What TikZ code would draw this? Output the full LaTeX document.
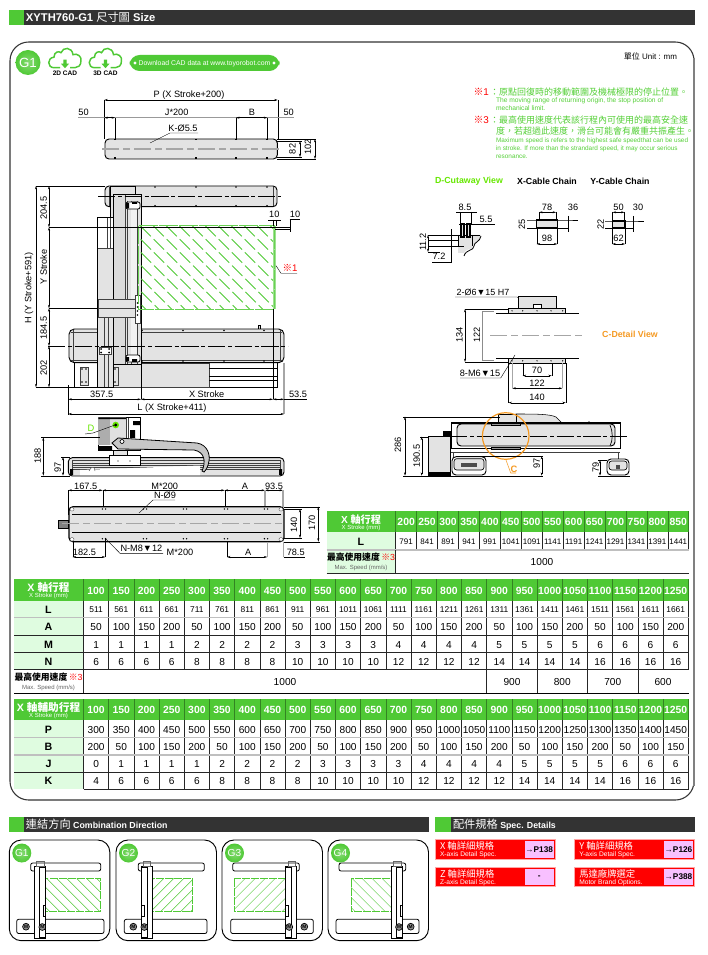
\documentclass[tikz,border=0pt]{standalone}
\usepackage{fontspec}
\setmainfont{Liberation Sans}
\newfontfamily\cjk{Noto Sans CJK TC}
\usetikzlibrary{arrows.meta,positioning}
\definecolor{brandgreen}{HTML}{4FC935}
\definecolor{notegreen}{HTML}{55D038}
\definecolor{palegreen}{HTML}{DFFCE0}
\definecolor{partgray}{HTML}{E3E3E3}
\definecolor{bardark}{HTML}{333333}
\definecolor{linkpink}{HTML}{F8C0FF}
\definecolor{detailorange}{HTML}{F59A23}
\definecolor{limegreen}{HTML}{66E800}
\tikzset{
  fs/.style={font=\fontsize{#1}{#1}\selectfont},
  fsb/.style={font=\fontsize{#1}{#1}\selectfont\bfseries},
  txt/.style={inner sep=0pt,outer sep=0pt},
  dimlabel/.style={txt,fs=6.9},
  part/.style={draw=black,line width=.7pt,fill=partgray},
  seam/.style={line width=.3pt,draw=black!75},
  dimline/.style={{Stealth[length=2.6pt,width=1.5pt]}-{Stealth[length=2.6pt,width=1.5pt]},line width=.3pt},
  extline/.style={line width=.3pt},
  greyext/.style={line width=.8pt,draw=black!35},
  centre/.style={line width=.45pt,dash pattern=on 13pt off 2pt on 3pt off 2pt},
  greycentre/.style={line width=.8pt,draw=black!35,dash pattern=on 13pt off 3pt on 5pt off 3pt},
  grid/.style={line width=.45pt,draw=black!85},
  softgrid/.style={line width=1pt,draw=black!25},
  headgrid/.style={line width=.4pt,draw=brandgreen!65!black},
  headcell/.style={txt,fsb=7.8,text=white,text height=5.6pt,text depth=0pt},
  cell/.style={txt,fs=7.6,text height=5.5pt,text depth=0pt},
  lcell/.style={txt,fs=6.3,text height=4.6pt,text depth=0pt},
  rowlabel/.style={txt,fsb=8,text height=5.8pt,text depth=0pt},
  hatchline/.style={line width=.6pt,draw=brandgreen,dash pattern=on 11pt off 3pt},
  minihatch/.style={line width=.35pt,draw=brandgreen},
  redbox/.style={fill=red,draw=red!35,line width=.5pt},
}
% x0, y0, x1, y1, sign of the slope, spacing, style
\newcommand{\hatchbox}[7]{
  \begin{scope}
    \clip (#1,#2) rectangle (#3,#4);
    \foreach \k in {-160,-142,...,320}
      \draw[#7] ({#1+\k*(#6)/18},#2) -- ++({(#5)*120},120);
  \end{scope}
}
% name, x0, width, y, style, values
\newcommand{\tablerow}[6]{
  \foreach \v [count=\i from 0] in {#6}
    \node[#5] (#1\i) at ({#2+#3*(\i+.5)},#4) {\v};
}
\begin{document}
\begin{tikzpicture}[x=0.75pt,y=-0.75pt]
\useasboundingbox (0,0) rectangle (707,955);
\fill[white] (0,0) rectangle (707,955);

% section bars
\foreach \xa/\xb/\xg/\ya in {9/695/24/10,9/429/24/816.7,435/694.5/451/816.7} {
  \fill[bardark] (\xa,\ya) rectangle (\xb,\ya+15);
  \fill[brandgreen] (\xa,\ya) rectangle (\xg,\ya+15);
}
\node[txt,text=white,fsb=8.4,anchor=west] (titlesize) at (26,17.7) {XYTH760-G1 {\cjk\mdseries\fontsize{8.4}{8.4}\selectfont 尺寸圖} Size};
\node[txt,text=white,fsb=6.6,anchor=west] (titlecomb) at (26,824.3) {{\cjk\mdseries\fontsize{8.4}{8.4}\selectfont 連結方向} Combination Direction};
\node[txt,text=white,fsb=6.6,anchor=west] (titlespec) at (453,824.3) {{\cjk\mdseries\fontsize{8.4}{8.4}\selectfont 配件規格} Spec. Details};

% outer frame
\draw[line width=.8pt,draw=black!80,rounded corners=14] (10,42) rectangle (694,800);
\draw[line width=1.3pt,draw=black!50] (694,58) -- (694,786);

% badge and cad icons
\shade[inner color=brandgreen!70!white,outer color=brandgreen] (28,62.5) circle[radius=12.5];
\node[txt,text=white,fs=10] (badge) at (28,62.5) {G1};
\foreach \cx/\clabel in {65/2D CAD,105.5/3D CAD} {
  \begin{scope}[shift={(\cx,47.7)}]
    \draw[line width=1.1pt,draw=brandgreen] (-5,20) -- (-11,20) .. controls (-18,20) and (-18,10) .. (-11,9.5) .. controls (-11,4) and (-6,3) .. (-4,5) .. controls (-2,-1) and (7,-1) .. (8,7) .. controls (12,5) and (17,9) .. (16,13) .. controls (16,18) and (13,20) .. (10,20) -- (5,20);
    \fill[brandgreen] (-1.7,12) -- (1.7,12) -- (1.7,16) -- (4,16) -- (0,20.5) -- (-4,16) -- (-1.7,16) -- cycle;
  \end{scope}
  \node[txt,fsb=4.9] (cad\cx) at (\cx,73.5) {\clabel};
}
\fill[brandgreen,rounded corners=7.6] (129.5,55) rectangle (279.5,71);
\fill[white] (135,63) circle[radius=1.7] (274,63) circle[radius=1.7];
\node[txt,text=white,fs=5.15] (download) at (204.5,63.3) {Download CAD data at www.toyorobot.com};
\node[txt,fs=6,anchor=east] (unit) at (677,56) {{\cjk 單位} Unit : mm};

% notes
\node[txt,text=red,fs=7.4,anchor=west] (mark1) at (473.5,92) {{\cjk ※}1};
\node[txt,text=notegreen,fs=6.75,anchor=west] (note1) at (490,92) {\cjk ：原點回復時的移動範圍及機械極限的停止位置。};
\node[txt,text=notegreen,fs=5,anchor=west] (note1a) at (496,101) {The moving range of returning origin, the stop position of};
\node[txt,text=notegreen,fs=5,anchor=west] (note1b) at (496,108.5) {mechanical limit.};
\node[txt,text=red,fs=7.4,anchor=west] (mark3) at (473.5,120) {{\cjk ※}3};
\node[txt,text=notegreen,fs=6.75,anchor=west] (note3) at (490,120) {\cjk ：最高使用速度代表該行程內可使用的最高安全速};
\node[txt,text=notegreen,fs=6.75,anchor=west] (note3b) at (496,131) {\cjk 度，若超過此速度，滑台可能會有嚴重共振產生。};
\node[txt,text=notegreen,fs=4.8,anchor=west] (note3c) at (496,141) {Maximum speed is refers to the highest safe speedthat can be used};
\node[txt,text=notegreen,fs=4.8,anchor=west] (note3d) at (496,149) {in stroke. If more than the strandard speed, it may occur serious};
\node[txt,text=notegreen,fs=4.8,anchor=west] (note3e) at (496,157) {resonance.};

% top plan view
\draw[part,rounded corners=3] (105,139) rectangle (277.3,159);
\draw[greycentre] (102,149) -- (280,149);
\foreach \hx in {115,196,236,267} {
  \draw[line width=.8pt] (\hx,139) -- (\hx,140.5) (\hx,157.5) -- (\hx,159);
}
\node[dimlabel] (pdim) at (189,95) {P (X Stroke+200)};
\draw[dimline] (104.3,100) -- (277.7,100);
\draw[extline] (104.3,100) -- (104.3,139) (277.7,100) -- (277.7,139);
\draw[line width=.5pt,draw=black!40] (78,117.7) -- (294,117.7);
\draw[dimline] (104.3,117.7) -- (115,117.7);
\draw[dimline] (236,117.7) -- (267.3,117.7);
\draw[extline] (115,118) -- (115,139) (236,118) -- (236,139) (267.3,118) -- (267.3,139);
\node[dimlabel] (fifty1) at (83.5,112.5) {50};
\node[dimlabel] (jdim) at (176.7,112.5) {J*200};
\node[dimlabel] (bdim) at (252,112.5) {B};
\node[dimlabel] (fifty2) at (288.7,112.5) {50};
\node[dimlabel] (kdim) at (183,128) {K-Ø5.5};
\draw[extline] (198,133) -- (170,133) -- (150,143);
\draw[extline] (277,139) -- (316,139) (277,159) -- (316,159) (277,141) -- (302,141) (277,157) -- (302,157);
\draw[dimline] (300,141) -- (300,157);
\draw[dimline] (315,139) -- (315,159);
\node[dimlabel,rotate=90] (d82) at (292.5,149) {82};
\node[dimlabel,rotate=90] (d102) at (308,147) {102};

% front view, x axis
\draw[part,fill=white] (74.3,362.7) rectangle (277.3,387.3);
\draw[seam,fill=partgray] (106.7,362.7) rectangle (209.3,387.3);
\foreach \ly in {368,376.7,380} {
  \draw[line width=.5pt] (209.3,\ly) -- (277.3,\ly);
}
\draw[seam,fill=partgray] (80,367) rectangle (88,385);
\draw[seam,fill=partgray] (107,367) rectangle (118,385);
\foreach \mx/\my in {82/369,86/369,82/382,86/382,110/369,115/369,110/382,115/382} {
  \fill (\mx,\my) circle[radius=.9];
}
\draw[part] (258,329) -- (258,325.5) -- (260,325.5) -- (260,329);
\draw[part,rounded corners=4] (69,329) rectangle (284,362.7);
\draw[seam] (73.3,330) -- (73.3,362) (280,330) -- (280,362);
\draw[seam] (71,332) -- (282,332) (71,360) -- (282,360);
\foreach \hx in {142,183,224,264} {
  \fill (\hx,330.5) circle[radius=.9] (\hx,361) circle[radius=.9];
}

% front view, y axis
\draw[part,rounded corners=3] (105,186) rectangle (277,206.7);
\draw[seam] (109,187) -- (109,206) (273.5,187) -- (273.5,206);
\foreach \hx in {155,196,236,267} {
  \fill (\hx,187) circle[radius=.8] (\hx,205.7) circle[radius=.8];
}
\draw[part] (110,186) rectangle (135,217.3);
\draw[part] (97.7,217.3) rectangle (113.3,387);
\fill[white] (98.2,217.8) rectangle (112.8,248);
\draw[seam] (97.7,248) -- (113,248) (107,218) -- (107,248) (110,218) -- (110,248) (104,317) -- (104,387) (108,317) -- (108,387);
\draw[part] (113.3,194.3) rectangle (141,364);
\fill[black!14] (113.8,195) rectangle (124.7,363.5);
\draw[seam] (124.7,195) -- (124.7,364) (127,201) -- (127,364) (131,201) -- (131,364) (137,201) -- (137,364);
\fill[black!5] (131.3,203) rectangle (136.7,362);
\draw[line width=.6pt,fill=white,rounded corners=1.5] (126,202) rectangle (140,209);
\fill (126,203) rectangle (129,208.5) (132,202) rectangle (137,204);
\draw[line width=.6pt,fill=white,rounded corners=1.5] (126,355) rectangle (140,362);
\fill (126,357) rectangle (129,361) (132,359) rectangle (137,362);
\draw[seam,fill=partgray] (97.7,299.3) rectangle (135,317.3);
\draw[seam] (97.7,308.3) -- (135,308.3);
\draw[seam,fill=white] (135,295) rectangle (140,323);
\foreach \my in {303,307,311,315} {
  \fill (137.5,\my) circle[radius=.8];
}
\draw[seam,fill=white] (99,347) rectangle (111,354.5);
\foreach \mx/\my in {101,109} {
  \fill (\mx,349) circle[radius=1] (\mx,352.5) circle[radius=1];
}

% hatch area
\hatchbox{139}{226}{274.7}{309.3}{1}{13}{hatchline}
\draw[line width=2pt,draw=brandgreen!55!white] (274.7,226) -- (274.7,309.3);
\draw[line width=1pt,draw=brandgreen!85!white,dash pattern=on 14pt off 1pt] (138.7,225.7) rectangle (274.7,309.3);

% front view centre lines and dimensions
\draw[centre] (98,196.7) -- (281,196.7);
\draw[centre] (48,346) -- (288,346);
\draw[line width=.5pt] (49,227.3) -- (290,227.3);
\draw[line width=.5pt] (49,308.3) -- (98,308.3);
\draw[extline] (36,186) -- (105,186) (36,387.3) -- (75,387.3);
\draw[dimline] (36,186) -- (36,387.3);
\draw[dimline] (49,186) -- (49,227.3);
\draw[dimline] (49,227.3) -- (49,308.3);
\draw[dimline] (49,308.3) -- (49,346);
\draw[dimline] (49,346) -- (49,387.3);
\node[dimlabel,rotate=90] (hdim) at (29,288) {H (Y Stroke+591)};
\node[dimlabel,rotate=90] (ya) at (43.7,208) {204.5};
\node[dimlabel,rotate=90] (yb) at (43.7,267) {Y Stroke};
\node[dimlabel,rotate=90] (yc) at (43.7,328) {184.5};
\node[dimlabel,rotate=90] (yd) at (43.7,368) {202};
\node[dimlabel] (ten1) at (274.3,214) {10};
\node[dimlabel] (ten2) at (295,214) {10};
\draw[extline] (268,220) -- (281,220) (289.7,219.3) -- (300,219.3) (289.7,219.3) -- (289.7,232);
\draw[extline] (273,220) -- (273,226) (276,220) -- (276,226) (275,229) -- (290,229);
\draw[line width=.6pt] (273,309) -- (273,399);
\draw[extline] (141,364) -- (141,399.3) (68.3,385) -- (68.3,415);
\draw[greyext] (284,362.7) -- (284,414);
\draw[dimline] (68.3,399.3) -- (141,399.3);
\draw[dimline] (141,399.3) -- (273,399.3);
\draw[dimline] (273,399.3) -- (284,399.3);
\draw[extline] (284,399.3) -- (307,399.3);
\draw[dimline] (68.3,414) -- (284,414);
\node[dimlabel] (da) at (101.7,394) {357.5};
\node[dimlabel] (db) at (206.7,394) {X Stroke};
\node[dimlabel] (dc) at (298,394) {53.5};
\node[dimlabel] (dd) at (172,407.7) {L (X Stroke+411)};
\node[txt,text=red,fs=7.2] (markone) at (290,267.7) {{\cjk ※}1};
\draw[extline] (297,273.3) -- (281,273.3) -- (276,265.7);

% side view
\draw[part,rounded corners=3] (68.3,457.7) rectangle (284,476);
\foreach \ly in {460.5,463,465,467,469.5} {
  \draw[seam] (72,\ly) -- (280,\ly);
}
\fill[white] (80,470) -- (200,465.5) -- (200,475) -- (80,475) -- cycle;
\draw[seam] (72,460) -- (72,475) (280,460) -- (280,475);
\fill (70,469) rectangle (73,475) (279,469) rectangle (282,475);
\draw[seam,fill=white] (89,471) .. controls (91,466) and (95,466) .. (95,471);
\draw[part,fill=white] (109.3,455) rectangle (140,465);
\foreach \hx in {118,130} {
  \fill (\hx,461) circle[radius=.7];
}
\draw[part] (113,445) rectangle (127,455);
\draw[part,fill=white] (98.3,417.3) rectangle (140,450);
\fill[black!32] (98.3,417.3) rectangle (110,445);
\fill[black!12] (110,417.3) rectangle (126,445);
\fill (98.3,446) rectangle (112,450) (98.3,417.3) rectangle (126,419);
\draw[seam] (126,418) -- (126,446) (128,418) -- (128,446);
\fill (130,430) rectangle (135,438) (133,421) rectangle (140,425);
\draw[line width=.6pt,fill=black!22] (112,443) -- (118,438) -- (197,443) .. controls (208,445) and (210,455) .. (209,461) .. controls (208,467) and (206,470) .. (204,472) -- (202,471) .. controls (206,462) and (205,452) .. (194,450) -- (118,449) -- cycle;
\draw[line width=.5pt,fill=white] (122,441.5) circle[radius=2];
\fill[limegreen] (115.7,425) circle[radius=3.3];
\fill (115.7,425) circle[radius=1.6];
\node[txt,text=limegreen,fs=7] (dmark) at (91,428) {D};
\draw[extline] (85,434) -- (93,433) -- (115,425);
\draw[extline] (41,437.3) -- (100,437.3) (41,475.7) -- (70,475.7) (61,457) -- (70,457);
\draw[dimline] (43.3,437.3) -- (43.3,475.7);
\draw[dimline] (63,457) -- (63,475.7);
\node[dimlabel,rotate=90] (s188) at (37.7,456) {188};
\node[dimlabel,rotate=90] (s97) at (57.7,467.7) {97};

% bottom plan view
\node[dimlabel] (b1) at (85.7,486) {167.5};
\node[dimlabel] (b2) at (164.7,486) {M*200};
\node[dimlabel] (b3) at (245,486) {A};
\node[dimlabel] (b4) at (274,486) {93.5};
\draw[dimline] (68.3,490.3) -- (102.7,490.3);
\draw[dimline] (102.7,490.3) -- (224.7,490.3);
\draw[dimline] (224.7,490.3) -- (265,490.3);
\draw[dimline] (265,490.3) -- (283,490.3);
\draw[extline] (68.3,490) -- (68.3,515) (102.7,490) -- (102.7,507) (224.7,490) -- (224.7,507);
\draw[greyext] (265,490) -- (265,507) (283,490) -- (283,507);
\draw[line width=.5pt,fill=black!50] (58,520) rectangle (68,528);
\draw[part,rounded corners=3,line width=.9pt] (69,506.7) rectangle (284,541.7);
\draw[line width=.4pt] (72,514) -- (281,514) (72,532.7) -- (281,532.7);
\draw[seam,fill=white,rounded corners=1] (70,507.5) rectangle (74,511) (279,507.5) rectangle (283,511) (70,537.5) rectangle (74,541) (279,537.5) rectangle (283,541);
\draw[greycentre] (62,523.3) -- (284,523.3);
\foreach \hx in {104,145,185,226,266} {
  \fill (\hx-1.6,509) circle[radius=.8] (\hx+1.6,509) circle[radius=.8] (\hx-1.6,538.7) circle[radius=.8] (\hx+1.6,538.7) circle[radius=.8];
}
\node[dimlabel] (nhole) at (165,495.7) {N-Ø9};
\draw[extline] (175,500) -- (153,500) -- (139,513);
\draw[extline] (284,506.7) -- (320,506.7) (284,541.7) -- (320,541.7) (284,509) -- (302,509) (284,538) -- (302,538);
\draw[dimline] (300,509) -- (300,538);
\draw[dimline] (318.3,506.7) -- (318.3,541.7);
\node[dimlabel,rotate=90] (b140) at (294,525) {140};
\node[dimlabel,rotate=90] (b170) at (312,523) {170};
\node[dimlabel] (c1) at (84.5,552.3) {182.5};
\node[dimlabel,anchor=west] (c2) at (120.5,548.3) {N-M8▼12};
\node[dimlabel] (c3) at (180,552.3) {M*200};
\node[dimlabel] (c4) at (248.3,552.3) {A};
\node[dimlabel] (c5) at (295.7,552.3) {78.5};
\draw[extline] (163,553.3) -- (120,553.3) -- (105,538);
\draw[dimline] (72.7,557) -- (105.3,557);
\draw[dimline] (227,557) -- (267.3,557);
\draw[extline] (283.7,557) -- (305,557) (72.7,541.7) -- (72.7,557) (105.3,538) -- (105.3,557) (227,541.7) -- (227,557);
\draw[greyext] (267.3,541.7) -- (267.3,557) (283.7,541.7) -- (283.7,557);

% d cutaway and cable chains
\node[txt,text=limegreen,fsb=6.6] (dcut) at (469,181) {D-Cutaway View};
\node[txt,fsb=6.6] (xchain) at (547,181) {X-Cable Chain};
\node[txt,fsb=6.6] (ychain) at (620,181) {Y-Cable Chain};
\fill[partgray] (458,235) -- (481,235) .. controls (481,243) and (473,243) .. (473,246) .. controls (473,250) and (466,248) .. (464,253) -- (458,253) -- cycle;
\draw[line width=.6pt] (464,256) .. controls (466,249) and (474,251) .. (474,246) .. controls (474,242) and (480,242) .. (481,236);
\draw[line width=.4pt] (428,235) -- (480,235) (428,240) -- (458,240) (428,246) -- (464,246) (458,235) -- (458,246) (472,236) -- (472,246);
\draw[line width=.8pt,fill=partgray] (461,224) rectangle (464,237) (467,224) rectangle (470,237);
\draw[extline] (460,212) -- (460,224) (470.7,212) -- (470.7,224) (459,224) -- (495,224);
\draw[extline] (456,212) -- (477,212);
\draw[dimline] (428,235) -- (428,252);
\draw[extline] (428,252) -- (440,252) (432,262) -- (450.7,262) -- (450.7,229);
\node[dimlabel,rotate=90] (d112) at (423,242) {11.2};
\node[dimlabel] (d85) at (465,207) {8.5};
\node[dimlabel] (d55) at (486,219) {5.5};
\node[dimlabel] (d72) at (439,256) {7.2};
\draw[line width=1pt,fill=partgray] (536.7,220) rectangle (557.3,228);
\draw[line width=1pt,fill=partgray] (612.3,221) rectangle (625,228);
\foreach \ca/\cb/\cc/\cd/\ce/\cf/\cg/\ch/\ci in {539/556/536.7/557.3/567.7/527/578/220/228,612.5/624.5/612.3/625/632.7/605/644/221/228} {
  \draw[dimline] (\ca,212.3) -- (\cb,212.3);
  \draw[extline] (\ca,212) -- (\ca,220) (\cb,212) -- (\cb,220);
  \draw[dimline] (\cc,244) -- (\cd,244);
  \draw[extline] (\cc,228) -- (\cc,244) (\cd,228) -- (\cd,244);
  \draw[extline] (\ce,216) -- (\ce,232) (\cf,\ch) -- (\ce,\ch) -- (\cg,\ch) (\cf,\ci) -- (\ce,\ci);
  \draw[extline] (\ce,\ch-2) -- (\ce,\ci+2);
}
\node[dimlabel] (x78) at (547,207) {78};
\node[dimlabel] (x36) at (573,207) {36};
\node[dimlabel,rotate=90] (x25) at (522,224) {25};
\node[dimlabel] (x98) at (547,238.5) {98};
\node[dimlabel] (y50) at (618.5,207) {50};
\node[dimlabel] (y30) at (638,207) {30};
\node[dimlabel,rotate=90] (y22) at (600.7,224) {22};
\node[dimlabel] (y62) at (618.5,238.5) {62};

% c detail view
\node[dimlabel,fs=6.7] (holea) at (483,292) {2-Ø6▼15 H7};
\draw[extline] (455,297) -- (517,297) -- (541,313);
\draw[line width=.5pt,fill=partgray] (518.3,296) rectangle (556.7,308.3);
\draw[line width=.5pt,fill=white] (533,304.5) rectangle (541,308.3);
\draw[extline] (496,313.3) -- (578.7,313.3) (496,358.3) -- (578.7,358.3);
\foreach \by in {308.3,358.3} {
  \draw[line width=.7pt,fill=partgray] (508.3,\by) rectangle (565.7,\by+5);
  \foreach \hx in {512,522.7,537,551,562.7} {
    \fill (\hx,\by+2.5) circle[radius=.7];
  }
}
\draw[greycentre] (490,335.7) -- (584,335.7);
\draw[extline] (465,309) -- (508,309) (465,362) -- (508,362);
\draw[dimline] (465,309) -- (465,362);
\draw[line width=.6pt,draw=black!45] (494,311.7) -- (482.3,311.7) -- (482.3,360) -- (494,360);
\node[dimlabel,rotate=90] (c134) at (459.5,335) {134};
\node[dimlabel,rotate=90] (c122) at (477,335) {122};
\node[txt,text=detailorange,fsb=6.6] (cview) at (630,334) {C-Detail View};
\node[dimlabel] (holeb) at (480,373.5) {8-M6▼15};
\draw[extline] (460,378) -- (500.7,378) -- (515,355);
\draw[dimline] (522.7,375.7) -- (551.7,375.7);
\draw[dimline] (512.3,388.3) -- (562.3,388.3);
\draw[dimline] (508.5,402.7) -- (565.7,402.7);
\draw[extline] (522.7,363) -- (522.7,376) (551.7,363) -- (551.7,376);
\draw[greyext] (512.3,363) -- (512.3,388) (562.3,363) -- (562.3,388);
\draw[extline] (508.5,363) -- (508.5,403) (565.7,363) -- (565.7,403);
\node[dimlabel] (c70) at (537,370) {70};
\node[dimlabel] (cb122) at (537,383) {122};
\node[dimlabel] (c140) at (537,397) {140};

% end view
\draw[line width=.4pt,fill=partgray] (516,414) .. controls (535,414) and (550,414) .. (556,417) -- (562,423) -- (516,423) -- cycle;
\draw[part,fill=white] (451,422.7) rectangle (620,448.3);
\draw[line width=.7pt,fill=partgray,rounded corners=3] (457,424) rectangle (615,446);
\draw[line width=.9pt] (451,423) -- (620,423) (451,448.3) -- (620,448.3);
\draw[seam] (451,452) -- (620,452) (453,452) -- (453,458) (618,452) -- (618,459);
\draw[line width=.5pt,fill=partgray] (498,414) rectangle (516.7,422.7);
\draw[line width=.6pt,fill=black!40] (491,423) rectangle (520,425) (491,447) rectangle (520,449);
\draw[line width=.5pt] (589,423) -- (589,421) (610,425) .. controls (613,432) and (613,440) .. (610,446);
\draw[line width=.5pt,fill=partgray] (428,436.7) rectangle (450,475);
\fill (428,472) rectangle (450,475) (443,431) rectangle (451,436.7);
\foreach \fa/\fb/\fc in {452/486/456.7,607/629/459} {
  \draw[line width=.7pt,fill=white,rounded corners=3] (\fa,\fc) rectangle (\fb,475);
  \draw[line width=.5pt,fill=partgray,rounded corners=2] (\fa+2,\fc+2) rectangle (\fb-2,470);
  \fill[black!70] (\fa+9,\fc+6) rectangle (\fb-9,\fc+10);
}
\draw[centre] (450,436.7) -- (627.7,436.7);
\draw[line width=.9pt,draw=detailorange] (505.7,436) circle[radius=23.3];
\node[txt,text=detailorange,fsb=7] (cmark) at (514,469) {C};
\draw[line width=.4pt,draw=detailorange] (506,460) -- (510.7,473) -- (516,473);
\draw[extline] (403,416.7) -- (500,416.7) (403,475.7) -- (543,475.7) (420,436.7) -- (428,436.7) (480,456) -- (543,456) (598,460) -- (607,460) (598,475.7) -- (630,475.7);
\draw[dimline] (405,416.7) -- (405,475.7);
\draw[dimline] (421.7,436.7) -- (421.7,475.7);
\draw[dimline] (541.7,456) -- (541.7,475.7);
\draw[dimline] (600,460) -- (600,475.7);
\node[dimlabel,rotate=90] (e286) at (398,445) {286};
\node[dimlabel,rotate=90] (e190) at (416.7,456) {190.5};
\node[dimlabel,rotate=90] (e97) at (536.7,463) {97};
\node[dimlabel,rotate=90] (e79) at (595.7,467) {79};

% table of x strokes, short
\fill[brandgreen] (326.7,511.3) rectangle (688.7,532.3);
\fill[palegreen] (326.7,532.3) rectangle (395.7,573.3);
\foreach \i in {0,...,14} {
  \draw[headgrid] ({395.7+20.93*\i},511.3) -- ({395.7+20.93*\i},532.3);
  \draw[grid] ({395.7+20.93*\i},532.3) -- ({395.7+20.93*\i},550);
}
\draw[softgrid] (326.7,550) -- (688.7,550);
\draw[grid] (395.7,550) -- (395.7,573.3);
\draw[line width=.7pt,draw=black!85] (326.7,573.3) -- (688.7,573.3);
\node[txt,text=white,fsb=7.6] (sxa) at (361,519.5) {X {\cjk\fontsize{7.6}{7.6}\selectfont 軸行程}};
\node[txt,text=white,fs=4.5] (sxb) at (361,527.7) {X Stroke (mm)};
\node[rowlabel] (sl) at (361,541.5) {L};
\node[txt,fs=6.6] (ssa) at (361,557.5) {{\cjk\bfseries 最高使用速度}\,\textcolor{red}{{\cjk ※}3}};
\node[txt,fs=4.5,text=black!60] (ssb) at (361,568) {Max. Speed (mm/s)};
\tablerow{sh}{395.7}{20.93}{522}{headcell}{200,250,...,850}
\tablerow{sv}{395.7}{20.93}{541.5}{txt,fs=6,text height=4.4pt,text depth=0pt}{791,841,...,1441}
\node[cell] (sm) at (542,562) {1000};

% table of x strokes, long
\fill[brandgreen] (14,579.3) rectangle (688.7,600.7);
\fill[brandgreen] (14,699.3) rectangle (688.7,720);
\fill[palegreen] (14,600.7) rectangle (83.5,669.5);
\fill[palegreen] (14,720) rectangle (83.5,789.3);
\foreach \i in {0,...,24} {
  \draw[headgrid] ({83.5+25.2*\i},579.3) -- ({83.5+25.2*\i},600.7);
  \draw[headgrid] ({83.5+25.2*\i},699.3) -- ({83.5+25.2*\i},720);
  \draw[grid] ({83.5+25.2*\i},600.7) -- ({83.5+25.2*\i},669.5);
  \draw[grid] ({83.5+25.2*\i},720) -- ({83.5+25.2*\i},789.3);
}
\foreach \i in {16,18,20,22} {
  \draw[grid] ({83.5+25.2*\i},669.5) -- ({83.5+25.2*\i},693.3);
}
\draw[grid] (83.5,669.5) -- (83.5,693.3);
\draw[softgrid] (14,617.7) -- (688.7,617.7) (14,737.3) -- (688.7,737.3) (14,755) -- (688.7,755);
\draw[grid] (14,635) -- (688.7,635) (14,652) -- (688.7,652) (14,669.5) -- (688.7,669.5) (14,772) -- (688.7,772);
\draw[line width=.8pt] (14,693.3) -- (688.7,693.3);
\draw[grid] (83.5,789.3) -- (688.7,789.3);
\node[txt,text=white,fsb=8] (lxa) at (48.5,587) {X {\cjk\fontsize{8}{8}\selectfont 軸行程}};
\node[txt,text=white,fs=4.5] (lxb) at (48.5,596) {X Stroke (mm)};
\node[txt,text=white,fsb=8] (axa) at (48.5,707) {X {\cjk\fontsize{8}{8}\selectfont 軸輔助行程}};
\node[txt,text=white,fs=4.5] (axb) at (48.5,715.5) {X Stroke (mm)};
\foreach \rname/\rtxt/\ry in {L/L/609.5,A/A/627,M/M/644.5,N/N/661.5,P/P/729.5,B/B/747,J/J/764,K/K/781} {
  \node[rowlabel] (lab\rname) at (48.5,\ry) {\rtxt};
}
\node[txt,fs=6.6] (lsa) at (48.5,677) {{\cjk\bfseries 最高使用速度}\,\textcolor{red}{{\cjk ※}3}};
\node[txt,fs=4.5,text=black!60] (lsb) at (48.5,688) {Max. Speed (mm/s)};
\tablerow{hx}{83.5}{25.2}{590.3}{headcell}{100,150,...,1250}
\tablerow{hy}{83.5}{25.2}{710}{headcell}{100,150,...,1250}
\tablerow{rl}{83.5}{25.2}{609.5}{lcell}{511,561,...,1661}
\tablerow{ra}{83.5}{25.2}{627}{cell}{50,100,150,200,50,100,150,200,50,100,150,200,50,100,150,200,50,100,150,200,50,100,150,200}
\tablerow{rm}{83.5}{25.2}{644.5}{cell}{1,1,1,1,2,2,2,2,3,3,3,3,4,4,4,4,5,5,5,5,6,6,6,6}
\tablerow{rn}{83.5}{25.2}{661.5}{cell}{6,6,6,6,8,8,8,8,10,10,10,10,12,12,12,12,14,14,14,14,16,16,16,16}
\tablerow{rp}{83.5}{25.2}{729.5}{cell}{300,350,...,1450}
\tablerow{rb}{83.5}{25.2}{747}{cell}{200,50,100,150,200,50,100,150,200,50,100,150,200,50,100,150,200,50,100,150,200,50,100,150}
\tablerow{rj}{83.5}{25.2}{764}{cell}{0,1,1,1,1,2,2,2,2,3,3,3,3,4,4,4,4,5,5,5,5,6,6,6}
\tablerow{rk}{83.5}{25.2}{781}{cell}{4,6,6,6,6,8,8,8,8,10,10,10,10,12,12,12,12,14,14,14,14,16,16,16}
\foreach \sx/\sv in {285/1000,512/900,562.3/800,612.8/700,663/600} {
  \node[cell] (sp\sv) at (\sx,681.7) {\sv};
}

% combination panels
\foreach \pa/\pname/\ya/\yb/\ca/\cb/\ia/\ib/\ha/\hb/\hs/\xa/\xb/\ma/\mb/\sa in {
  9.3/G1/30.7/100.7/34.3/45.7/39/45.7/45.7/100/1/16.7/104/26/42.3/43.3,
  116/G2/138.3/204.3/141/152.3/141/147.7/142.7/192.7/-1/124.3/207/133.3/144.3/141.7,
  222/G3/232.7/299.3/285.7/296.7/285.7/291.7/234/285.7/-1/230.7/313.3/304.3/289.3/285.7,
  328/G4/339/405.7/391/402.7/396/402.7/351/401/1/336/419/410.7/399/400} {
  \draw[line width=.7pt,rounded corners=9,fill=white] (\pa,840) rectangle (\pa+100.5,940.7);
  \hatchbox{\ha}{878.5}{\hb}{911.7}{\hs}{10}{minihatch}
  \draw[line width=.6pt,draw=brandgreen,dash pattern=on 6pt off .8pt] (\ha,878.5) rectangle (\hb,911.7);
  \draw[line width=.6pt,fill=white,rounded corners=1.5] (\ya,863) rectangle (\yb,871);
  \draw[line width=.6pt,fill=white,rounded corners=1.5] (\xa,919.3) rectangle (\xb,933.5);
  \draw[line width=.6pt,fill=white] (\ca,866.5) rectangle (\cb,938);
  \draw[line width=.7pt] (\ia,867) rectangle (\ib,937.5);
  \draw[line width=.4pt,fill=white] (\sa,905) rectangle (\sa+2.2,916);
  \draw[line width=.3pt,draw=black!60] (\ca+2,861.5) rectangle (\cb-2,866.5);
  \draw[line width=.5pt,fill=black!45] (\ma,926.7) circle[radius=3.4];
  \node[txt,fsb=3.6] (motor\pname) at (\ma,926.8) {M};
  \draw[line width=.5pt,fill=black!45] (\mb,927) circle[radius=3.4];
  \node[txt,fsb=3.6] (drive\pname) at (\mb,927.1) {M};
  \shade[inner color=brandgreen!70!white,outer color=brandgreen] (\pa+12.5,853) circle[radius=9.5];
  \node[txt,text=white,fs=7.6] (panel\pname) at (\pa+12.5,853) {\pname};
}

% spec links
\foreach \bx/\by/\bh/\bzh/\ben/\bpage in {
  435/839.3/20/X 軸詳細規格/X-axis Detail Spec./→P138,
  574.3/839.3/20/Y 軸詳細規格/Y-axis Detail Spec./→P126,
  435/867.3/19.4/Z 軸詳細規格/Z-axis Detail Spec./-,
  574.3/867.3/19.4/馬達廠牌選定/Motor Brand Options./→P388} {
  \draw[redbox] (\bx,\by) rectangle (\bx+120.3,\by+\bh);
  \fill[linkpink] (\bx+90,\by+1.6) rectangle (\bx+118.5,\by+\bh-1.6);
  \node[txt,text=white,fs=7,anchor=west] (zh\bx\by) at (\bx+5,\by+6.7) {\cjk \bzh};
  \node[txt,text=white,fs=5,anchor=west] (en\bx\by) at (\bx+5,\by+15.3) {\ben};
  \node[txt,fsb=6.2] (page\bx\by) at (\bx+104.2,\by+\bh/2) {\bpage};
}
\end{tikzpicture}
\end{document}
